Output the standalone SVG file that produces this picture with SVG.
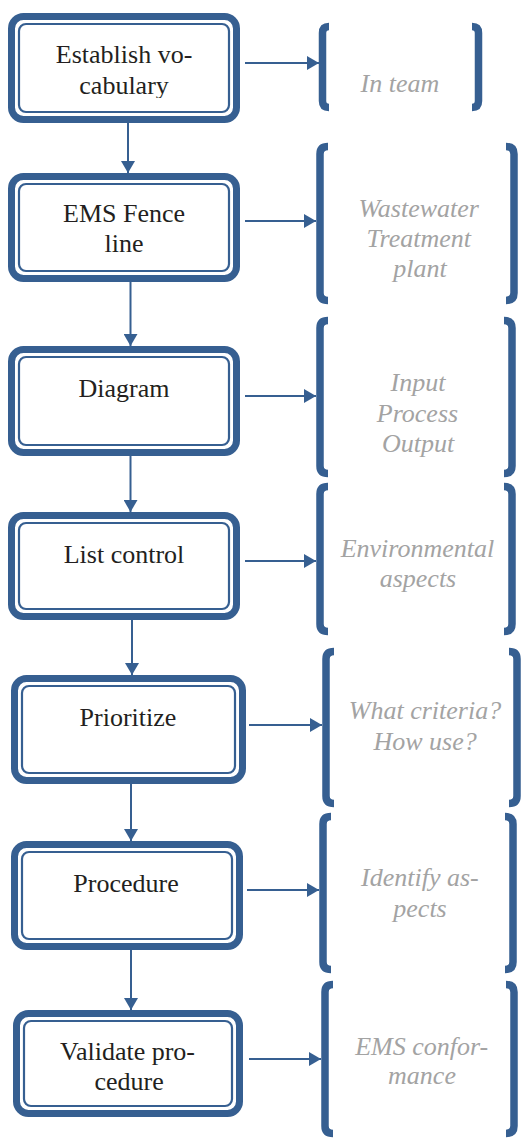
<svg xmlns="http://www.w3.org/2000/svg" width="529" height="1138" viewBox="0 0 529 1138">
  <defs>
    <marker id="arrow" viewBox="0 0 12 14" refX="12" refY="7" markerWidth="12" markerHeight="14" markerUnits="userSpaceOnUse" orient="auto">
      <path d="M0,0 L12,7 L0,14 Z" fill="#365f91"/>
    </marker>
    <clipPath id="clip-n1">
      <rect x="0" y="0" width="260" height="98"/>
    </clipPath>
  </defs>

  <!-- process steps: thick outer frame, thin inner frame, serif label -->
  <g id="step-vocabulary">
    <rect x="11.5" y="16.5" width="225" height="103" rx="12" fill="#ffffff" stroke="#365f91" stroke-width="7"/>
    <rect x="19" y="24" width="210" height="88" rx="7" fill="none" stroke="#365f91" stroke-width="2.2"/>
    <g clip-path="url(#clip-n1)">
      <text font-family="Liberation Serif" font-size="26" fill="#231f20" x="55.8" y="63">Establish vo-</text>
      <text font-family="Liberation Serif" font-size="26" fill="#231f20" x="79.3" y="94">cabulary</text>
    </g>
  </g>

  <g id="step-fence-line">
    <rect x="11.5" y="176.5" width="225" height="102" rx="12" fill="#ffffff" stroke="#365f91" stroke-width="7"/>
    <rect x="19" y="184" width="210" height="87" rx="7" fill="none" stroke="#365f91" stroke-width="2.2"/>
    <text font-family="Liberation Serif" font-size="26" fill="#231f20" x="63" y="222">EMS Fence</text>
    <text font-family="Liberation Serif" font-size="26" fill="#231f20" x="104.5" y="252">line</text>
  </g>

  <g id="step-diagram">
    <rect x="11.5" y="349.5" width="225" height="103" rx="12" fill="#ffffff" stroke="#365f91" stroke-width="7"/>
    <rect x="19" y="357" width="210" height="88" rx="7" fill="none" stroke="#365f91" stroke-width="2.2"/>
    <text font-family="Liberation Serif" font-size="26" fill="#231f20" x="78.5" y="397">Diagram</text>
  </g>

  <g id="step-list-control">
    <rect x="11.5" y="515.5" width="225" height="101" rx="12" fill="#ffffff" stroke="#365f91" stroke-width="7"/>
    <rect x="19" y="523" width="210" height="86" rx="7" fill="none" stroke="#365f91" stroke-width="2.2"/>
    <text font-family="Liberation Serif" font-size="26" fill="#231f20" x="63.7" y="563">List control</text>
  </g>

  <g id="step-prioritize">
    <rect x="14.5" y="678.5" width="228" height="102" rx="12" fill="#ffffff" stroke="#365f91" stroke-width="7"/>
    <rect x="22" y="686" width="213" height="87" rx="7" fill="none" stroke="#365f91" stroke-width="2.2"/>
    <text font-family="Liberation Serif" font-size="26" fill="#231f20" x="79.6" y="726">Prioritize</text>
  </g>

  <g id="step-procedure">
    <rect x="14.5" y="844.5" width="225" height="102" rx="12" fill="#ffffff" stroke="#365f91" stroke-width="7"/>
    <rect x="22" y="852" width="210" height="87" rx="7" fill="none" stroke="#365f91" stroke-width="2.2"/>
    <text font-family="Liberation Serif" font-size="26" fill="#231f20" x="73.3" y="892">Procedure</text>
  </g>

  <g id="step-validate">
    <rect x="16.5" y="1013.5" width="223" height="100" rx="12" fill="#ffffff" stroke="#365f91" stroke-width="7"/>
    <rect x="24" y="1021" width="208" height="85" rx="7" fill="none" stroke="#365f91" stroke-width="2.2"/>
    <text font-family="Liberation Serif" font-size="26" fill="#231f20" x="60" y="1060">Validate pro-</text>
    <text font-family="Liberation Serif" font-size="26" fill="#231f20" x="94.4" y="1090">cedure</text>
  </g>

  <!-- bracketed notes: square brackets with rounded hooks, grey italic text -->
  <g id="note-team">
    <path d="M329,26.5 Q322.5,26.5 322.5,33 V101 Q322.5,107.5 329,107.5 M472,26.5 Q478.5,26.5 478.5,33 V101 Q478.5,107.5 472,107.5" fill="none" stroke="#365f91" stroke-width="7.5"/>
    <text font-family="Liberation Serif" font-size="26" font-style="italic" fill="#a3a3a3" x="360.6" y="92">In team</text>
  </g>

  <g id="note-wastewater">
    <path d="M328,146.5 Q320,146.5 320,154 V293 Q320,300.5 328,300.5 M506,146.5 Q514,146.5 514,154 V293 Q514,300.5 506,300.5" fill="none" stroke="#365f91" stroke-width="7.5"/>
    <text font-family="Liberation Serif" font-size="26" font-style="italic" fill="#a3a3a3" x="358.6" y="217">Wastewater</text>
    <text font-family="Liberation Serif" font-size="26" font-style="italic" fill="#a3a3a3" x="366.6" y="247">Treatment</text>
    <text font-family="Liberation Serif" font-size="26" font-style="italic" fill="#a3a3a3" x="393.3" y="277">plant</text>
  </g>

  <g id="note-io">
    <path d="M328,320.5 Q320,320.5 320,328 V466 Q320,473.5 328,473.5 M504,320.5 Q512,320.5 512,328 V466 Q512,473.5 504,473.5" fill="none" stroke="#365f91" stroke-width="7.5"/>
    <text font-family="Liberation Serif" font-size="26" font-style="italic" fill="#a3a3a3" x="390.6" y="391">Input</text>
    <text font-family="Liberation Serif" font-size="26" font-style="italic" fill="#a3a3a3" x="376.8" y="422">Process</text>
    <text font-family="Liberation Serif" font-size="26" font-style="italic" fill="#a3a3a3" x="381.9" y="452">Output</text>
  </g>

  <g id="note-aspects">
    <path d="M328,486.5 Q320,486.5 320,494 V624 Q320,631.5 328,631.5 M504,486.5 Q512,486.5 512,494 V624 Q512,631.5 504,631.5" fill="none" stroke="#365f91" stroke-width="7.5"/>
    <text font-family="Liberation Serif" font-size="26" font-style="italic" fill="#a3a3a3" x="340.7" y="557">Environmental</text>
    <text font-family="Liberation Serif" font-size="26" font-style="italic" fill="#a3a3a3" x="379.7" y="587">aspects</text>
  </g>

  <g id="note-criteria">
    <path d="M334,651.5 Q326,651.5 326,659 V796 Q326,803.5 334,803.5 M509,651.5 Q517,651.5 517,659 V796 Q517,803.5 509,803.5" fill="none" stroke="#365f91" stroke-width="7.5"/>
    <text font-family="Liberation Serif" font-size="26" font-style="italic" fill="#a3a3a3" x="348.8" y="719">What criteria?</text>
    <text font-family="Liberation Serif" font-size="26" font-style="italic" fill="#a3a3a3" x="373.4" y="750">How use?</text>
  </g>

  <g id="note-identify">
    <path d="M331,816.5 Q323,816.5 323,824 V962 Q323,969.5 331,969.5 M505,816.5 Q513,816.5 513,824 V962 Q513,969.5 505,969.5" fill="none" stroke="#365f91" stroke-width="7.5"/>
    <text font-family="Liberation Serif" font-size="26" font-style="italic" fill="#a3a3a3" x="361.1" y="886">Identify as-</text>
    <text font-family="Liberation Serif" font-size="26" font-style="italic" fill="#a3a3a3" x="393.3" y="917">pects</text>
  </g>

  <g id="note-conformance">
    <path d="M333,984.5 Q325,984.5 325,992 V1126 Q325,1133.5 333,1133.5 M506,984.5 Q514,984.5 514,992 V1126 Q514,1133.5 506,1133.5" fill="none" stroke="#365f91" stroke-width="7.5"/>
    <text font-family="Liberation Serif" font-size="26" font-style="italic" fill="#a3a3a3" x="355.2" y="1055">EMS confor-</text>
    <text font-family="Liberation Serif" font-size="26" font-style="italic" fill="#a3a3a3" x="388.1" y="1084">mance</text>
  </g>

  <!-- connectors -->
  <g id="connectors" fill="none" stroke="#365f91" stroke-width="2">
    <line x1="128" y1="123" x2="128" y2="173" marker-end="url(#arrow)"/>
    <line x1="130.5" y1="282" x2="130.5" y2="346" marker-end="url(#arrow)"/>
    <line x1="130.5" y1="456" x2="130.5" y2="512" marker-end="url(#arrow)"/>
    <line x1="132" y1="620" x2="132" y2="675" marker-end="url(#arrow)"/>
    <line x1="131" y1="784" x2="131" y2="841" marker-end="url(#arrow)"/>
    <line x1="131" y1="950" x2="131" y2="1010" marker-end="url(#arrow)"/>

    <line x1="245" y1="63" x2="319" y2="63" marker-end="url(#arrow)"/>
    <line x1="245" y1="221" x2="316" y2="221" marker-end="url(#arrow)"/>
    <line x1="245" y1="396" x2="316" y2="396" marker-end="url(#arrow)"/>
    <line x1="245" y1="561" x2="316" y2="561" marker-end="url(#arrow)"/>
    <line x1="249" y1="725" x2="322" y2="725" marker-end="url(#arrow)"/>
    <line x1="247" y1="890" x2="319" y2="890" marker-end="url(#arrow)"/>
    <line x1="249" y1="1059" x2="321" y2="1059" marker-end="url(#arrow)"/>
  </g>
</svg>
